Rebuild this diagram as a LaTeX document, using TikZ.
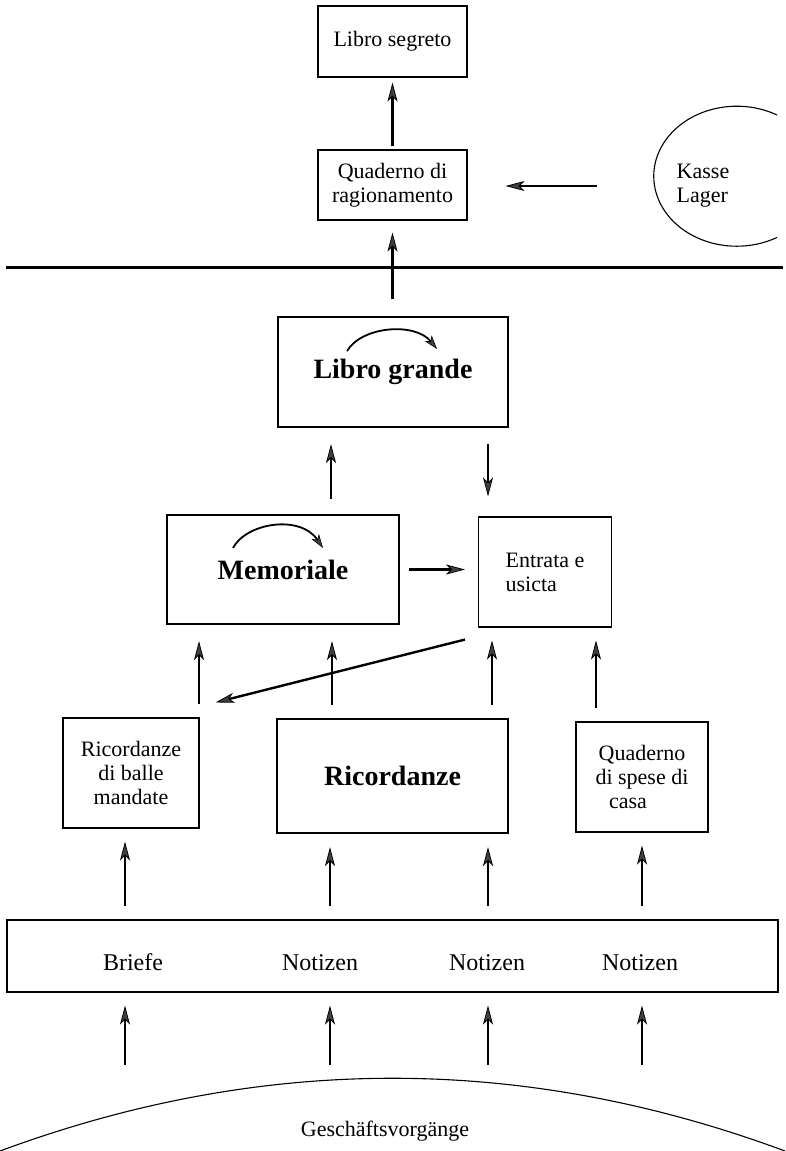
\documentclass[tikz,border=0pt]{standalone}
\usepackage{fontspec}
\setmainfont{Liberation Serif}
\usetikzlibrary{arrows.meta}
\begin{document}
\begin{tikzpicture}[x=1pt,y=-1pt,
  box/.style={draw,line width=1.1pt,inner sep=0pt,align=center,
    font=\fontsize{22}{24}\selectfont},
  bigbox/.style={box,line width=2.2pt,font=\fontsize{28}{30}\selectfont\bfseries},
  txt/.style={inner sep=0pt,font=\fontsize{22}{24}\selectfont},
  ntxt/.style={inner sep=0pt,anchor=base,font=\fontsize{24}{26}\selectfont},
  arr/.style={line width=2.4pt,
    -{Stealth[length=19pt,width=10pt,inset=5pt,line width=0.8pt,fill=black!75]}},
  carr/.style={line width=1.8pt,
    -{Stealth[length=14pt,width=9pt,inset=4pt,line width=0.6pt,fill=black!75]}},
  gap/.style={shorten <=#1},
  tipgap/.style={shorten >=#1}]
\useasboundingbox (0,0) rectangle (785,1151);

% boxes
\node[box,minimum width=149pt,minimum height=71pt] (seg) at (392.5,41.5) {Libro segreto};
\node[box,minimum width=149pt,minimum height=70pt] (quad) at (392.5,185) {Quaderno di\\ragionamento};
\node[bigbox,minimum width=230pt,minimum height=110pt] (lg) at (393,372) {Libro grande};
\node[bigbox,minimum width=232pt,minimum height=109pt] (mem) at (283,569.5) {Memoriale};
\node[box,minimum width=133pt,minimum height=110pt,align=left] (ent) at (545,572) {Entrata e\\usicta};
\node[box,minimum width=136pt,minimum height=110pt] (ricb) at (131,773) {Ricordanze\\di balle\\mandate};
\node[bigbox,minimum width=231pt,minimum height=114pt] (ric) at (392.5,776) {Ricordanze};
\node[box,minimum width=132pt,minimum height=110pt] (qsp) at (642,777) {Quaderno\\di spese di\\casa\hspace*{28pt}};
\node[draw,line width=1.1pt,inner sep=0pt,minimum width=771pt,minimum height=72pt] (notiz) at (392.5,956) {};

\node[ntxt] (t1) at (133,970) {Briefe};
\node[ntxt] (t2) at (320,970) {Notizen};
\node[ntxt] (t3) at (487,970) {Notizen};
\node[ntxt] (t4) at (640,970) {Notizen};

\node[txt] (gv) at (385,1131) {Geschäftsvorgänge};
\node[txt,align=left] (kl) at (703,186) {Kasse\\Lager};

% separating line
\draw[line width=3pt] (6,267) -- (783,267);

% Kasse Lager arc
\draw[line width=1.1pt] (777,115) arc[start angle=61,end angle=299,x radius=83pt,y radius=70pt];

% bottom arc
\draw[line width=1.1pt] (0,1151) .. controls (261.7,1054) and (523.3,1054) .. (785,1151);

% upper arrows
\draw[arr,gap=3pt,tipgap=5pt] (quad.north) -- (seg.south);
\draw[arr,gap=17pt,tipgap=12pt] (lg.north -| quad) -- (quad.south);
\coordinate (kasse) at (597,186);
\draw[arr,tipgap=38pt] (kasse) -- (quad.east |- kasse);

% curved arrows inside
\draw[carr] (347,351) .. controls (362,326) and (415,322) .. (437,349);
\draw[carr] (233,548) .. controls (246,523) and (300,514) .. (323,548);

% Libro grande <-> row
\coordinate (a1) at (331,0);
\coordinate (a2) at (488,0);
\draw[arr,gap=15pt,tipgap=16pt] (mem.north -| a1) -- (lg.south -| a1);
\draw[arr,gap=16pt,tipgap=20pt] (lg.south -| a2) -- (ent.north -| a2);

% Memoriale -> Entrata
\draw[arr,gap=9pt,tipgap=13pt] (mem.east) -- (ent.west |- mem.east);

% middle arrows
\coordinate (m1) at (199,0);
\coordinate (m2) at (332,0);
\coordinate (m3) at (492,0);
\coordinate (m4) at (596,0);
\draw[arr,gap=13pt,tipgap=16pt] (ricb.north -| m1) -- (mem.south -| m1);
\draw[arr,gap=13pt,tipgap=16pt] (ric.north -| m2) -- (mem.south -| m2);
\draw[arr,gap=13pt,tipgap=13pt] (ric.north -| m3) -- (ent.south -| m3);
\draw[arr,gap=13pt,tipgap=13pt] (qsp.north -| m4) -- (ent.south -| m4);

% diagonal
\draw[arr] ([xshift=-13pt,yshift=-12pt]ent.south west) -- ([xshift=16pt,yshift=15pt]ricb.north east);

% arrows from Notizen
\coordinate (b1) at (125,0);
\coordinate (b2) at (330,0);
\coordinate (b3) at (488,0);
\coordinate (b4) at (642,0);
\draw[arr,gap=13pt,tipgap=13pt] (notiz.north -| b1) -- (ricb.south -| b1);
\draw[arr,gap=13pt,tipgap=13pt] (notiz.north -| b2) -- (ric.south -| b2);
\draw[arr,gap=13pt,tipgap=13pt] (notiz.north -| b3) -- (ric.south -| b3);
\draw[arr,gap=13pt,tipgap=13pt] (notiz.north -| b4) -- (qsp.south -| b4);

% arrows from Geschaeftsvorgaenge
\coordinate (g1) at (125,1065);
\coordinate (g2) at (330,1065);
\coordinate (g3) at (488,1065);
\coordinate (g4) at (642,1065);
\draw[arr,tipgap=13pt] (g1) -- (notiz.south -| g1);
\draw[arr,tipgap=13pt] (g2) -- (notiz.south -| g2);
\draw[arr,tipgap=13pt] (g3) -- (notiz.south -| g3);
\draw[arr,tipgap=13pt] (g4) -- (notiz.south -| g4);
\end{tikzpicture}
\end{document}
